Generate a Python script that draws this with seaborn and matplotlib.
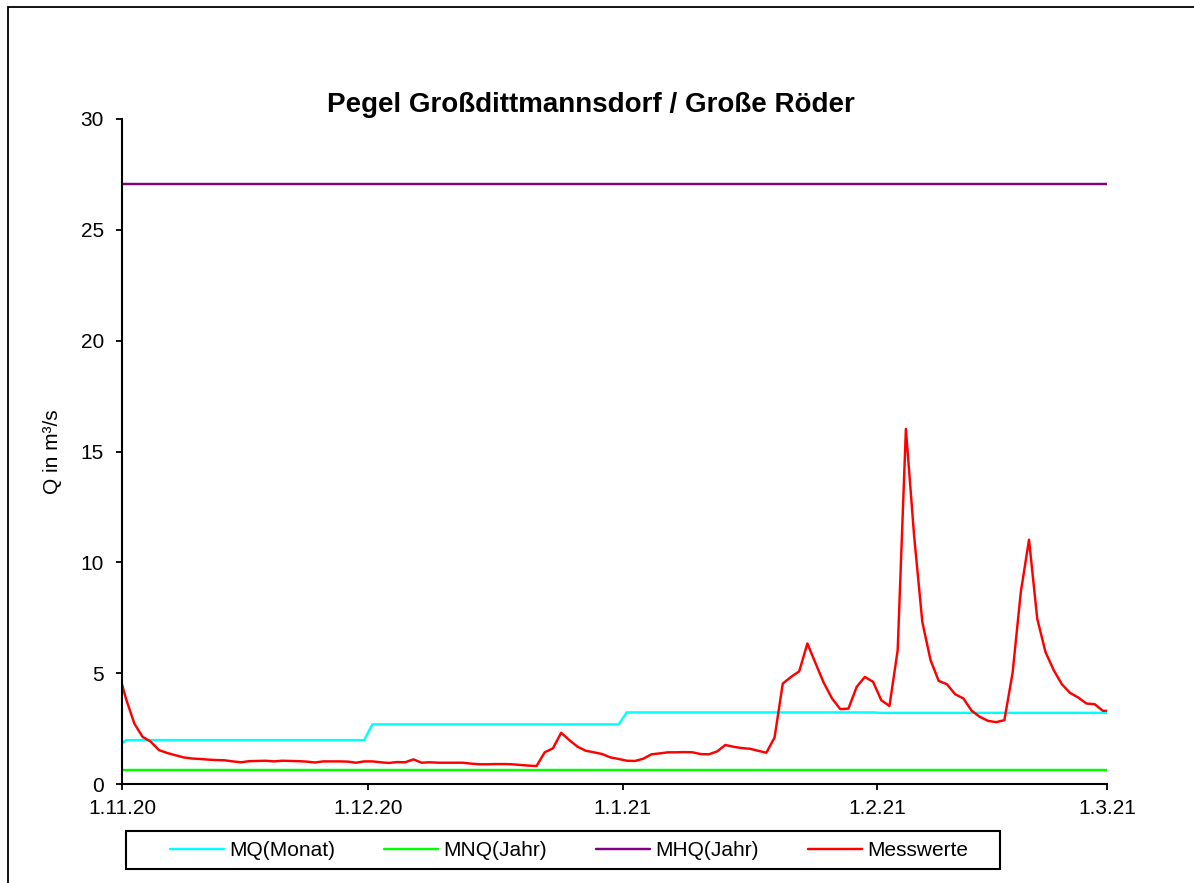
import numpy as np
import pandas as pd
import matplotlib
matplotlib.use("Agg")
import matplotlib.pyplot as plt
from matplotlib.patches import Rectangle
import seaborn as sns

# ---------------- data ----------------
title = "Pegel Großdittmannsdorf / Große Röder"
ylabel = "Q in m³/s"
series_names = ["MQ(Monat)", "MNQ(Jahr)", "MHQ(Jahr)", "Messwerte"]
series_colors = ["#00FFFF", "#00FF00", "#800080", "#FF0000"]
tick_dates = ["2020-11-01", "2020-12-01", "2021-01-01", "2021-02-01", "2021-03-01"]
tick_labels = ["1.11.20", "1.12.20", "1.1.21", "1.2.21", "1.3.21"]
yticks = [0, 5, 10, 15, 20, 25, 30]

# daily mean discharge (plotted at noon), 1.11.2020 - 28.2.2021
messwerte_start = 4.5     # value at 1.11.20 00:00
messwerte_daily = [
    3.83, 2.73, 2.13, 1.91, 1.53, 1.40, 1.30, 1.20, 1.15, 1.13,
    1.10, 1.08, 1.07, 1.02, 0.98, 1.03, 1.04, 1.05, 1.02, 1.05,
    1.04, 1.03, 1.01, 0.97, 1.02, 1.02, 1.02, 1.01, 0.96, 1.02,
    1.02, 0.98, 0.95, 0.99, 0.98, 1.11, 0.96, 0.98, 0.96, 0.96,
    0.96, 0.96, 0.92, 0.89, 0.89, 0.90, 0.90, 0.89, 0.86, 0.83,
    0.81, 1.43, 1.61, 2.31, 1.98, 1.68, 1.50, 1.43, 1.35, 1.20,
    1.13, 1.05, 1.04, 1.14, 1.34, 1.38, 1.43, 1.43, 1.44, 1.43,
    1.35, 1.34, 1.47, 1.76, 1.68, 1.62, 1.59, 1.50, 1.41, 2.10,
    4.53, 4.83, 5.08, 6.34, 5.44, 4.56, 3.86, 3.38, 3.40, 4.38,
    4.83, 4.61, 3.78, 3.52, 6.04, 16.02, 11.2, 7.31, 5.59, 4.65,
    4.50, 4.05, 3.86, 3.31, 3.03, 2.85, 2.79, 2.88, 5.02, 8.66,
    11.02, 7.46, 5.96, 5.14, 4.50, 4.11, 3.90, 3.63, 3.60, 3.30,
]
messwerte_end = 3.30      # value at 1.3.21 00:00

mq_start = 1.83
mq_month_keys = ["2020-11", "2020-12", "2021-01", "2021-02"]
mq_month_values = [1.98, 2.69, 3.23, 3.21]
mnq_value = 0.63
mhq_value = 27.07

# ---------------- build table ----------------
noon_times = pd.date_range("2020-11-01 12:00", periods=len(messwerte_daily), freq="D")
times = pd.DatetimeIndex([pd.Timestamp("2020-11-01 00:00")]).append(noon_times).append(
    pd.DatetimeIndex([pd.Timestamp("2021-03-01 00:00")]))

mq_map = dict(zip(mq_month_keys, mq_month_values))
mq_vals = [mq_start] + [mq_map[t.strftime("%Y-%m")] for t in noon_times] + [mq_month_values[-1]]
mnq_vals = [mnq_value] * len(times)
mhq_vals = [mhq_value] * len(times)
mess_vals = [messwerte_start] + messwerte_daily + [messwerte_end]

frames = []
for name, vals in zip(series_names, [mq_vals, mnq_vals, mhq_vals, mess_vals]):
    frames.append(pd.DataFrame({"time": times, "Q": vals, "series": name}))
df = pd.concat(frames, ignore_index=True)

# ---------------- plot ----------------
sns.set_style("ticks")
plt.rcParams["font.family"] = ["Liberation Sans", "DejaVu Sans"]
plt.rcParams["text.color"] = "black"
plt.rcParams["axes.labelcolor"] = "black"
plt.rcParams["xtick.color"] = "black"
plt.rcParams["ytick.color"] = "black"

W, H = 1194, 883
fig = plt.figure(figsize=(W / 100, H / 100), dpi=100)
fig.patch.set_facecolor("white")
ax = fig.add_axes([122 / W, 1 - 784 / H, 985 / W, 665 / H])

sns.lineplot(data=df, x="time", y="Q", hue="series", hue_order=series_names,
             palette=series_colors, linewidth=1.75, ax=ax, estimator=None, sort=False)

ax.set_xlim(pd.Timestamp(tick_dates[0]), pd.Timestamp(tick_dates[-1]))
ax.set_ylim(0, 30)
ax.set_xticks(pd.to_datetime(tick_dates))
ax.set_xticklabels(tick_labels)
ax.set_yticks(yticks)
ax.set_yticklabels([str(v) for v in yticks])
ax.set_xlabel("")
ax.set_ylabel(ylabel, fontsize=15, color="black")
ax.yaxis.set_label_coords(-0.061, 0.5)

for side in ["top", "right"]:
    ax.spines[side].set_visible(False)
for side in ["left", "bottom"]:
    ax.spines[side].set_linewidth(1.5)
    ax.spines[side].set_color("black")
ax.tick_params(axis="both", direction="out", length=4, width=1.3, colors="black",
               labelcolor="black", labelsize=15)
ax.tick_params(axis="x", pad=7)
ax.tick_params(axis="y", pad=9)
ax.grid(False)
ax.set_facecolor("white")

# legend
handles, labels = ax.get_legend_handles_labels()
ax.get_legend().remove()
leg = fig.legend(handles, labels, loc="center", bbox_to_anchor=(569 / W, 1 - 851 / H),
                 ncol=4, frameon=False, fontsize=15, handlelength=2.6,
                 handletextpad=0.25, columnspacing=2.35, borderaxespad=0)
for t in leg.get_texts():
    t.set_color("black")
fig.add_artist(Rectangle((126 / W, 1 - 869 / H), 874 / W, 38 / H,
                         transform=fig.transFigure, fill=False,
                         edgecolor="black", linewidth=1.5))

# outer frame (left and top visible)
fig.add_artist(Rectangle((8 / W, -0.05), 1.2, 1 - 7 / H + 0.05,
                         transform=fig.transFigure, fill=False,
                         edgecolor="black", linewidth=1.3))

fig.text(591 / W, 1 - 105 / H, title, ha="center", va="center",
         fontsize=20, fontweight="bold", color="black")

fig.savefig("out.png", dpi=100, facecolor="white")
